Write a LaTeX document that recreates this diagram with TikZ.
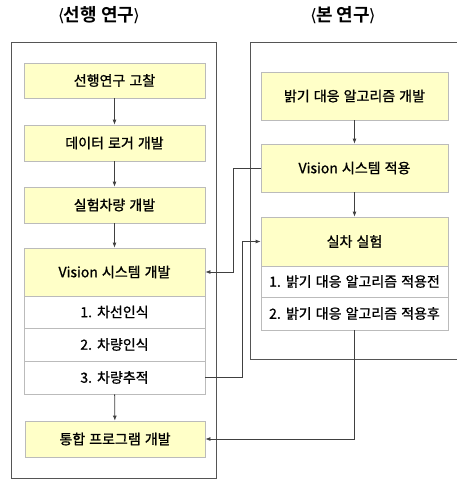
\documentclass[tikz,border=0pt]{standalone}
\usepackage{fontspec}
\newfontfamily\kr[FakeBold=1.1,WordSpace=1.3]{Noto Sans CJK KR}
\newfontfamily\krb{Noto Sans CJK KR Bold}
\newfontfamily\brfont{DejaVu Sans}
\usetikzlibrary{arrows.meta}
\definecolor{boxfill}{HTML}{FFFFC8}
\definecolor{boxline}{HTML}{BBBBBB}
\definecolor{outerline}{HTML}{555555}
\definecolor{conn}{HTML}{404040}
\tikzset{
  ybox/.style={draw=boxline, fill=boxfill, line width=0.8pt, inner sep=0pt, font=\kr\fontsize{14}{16}\selectfont},
  wbox/.style={draw=boxline, fill=white, line width=0.8pt, inner sep=0pt, font=\kr\fontsize{14}{16}\selectfont},
  outer/.style={draw=outerline, line width=0.9pt},
  arr/.style={draw=conn, line width=0.8pt, -{Latex[length=5pt,width=4pt]}},
  title/.style={font=\krb\fontsize{18}{20}\selectfont}
}
\newcommand{\lbr}{{\brfont\fontsize{17}{20}\selectfont⟨}}
\newcommand{\rbr}{{\brfont\fontsize{17}{20}\selectfont⟩}}
\begin{document}
\begin{tikzpicture}[x=1pt,y=-1pt]
\useasboundingbox (0,0) rectangle (457,480);
\fill[white] (0,0) rectangle (457,480);
% titles
\node[title] (t1) at (99,15) {\lbr\kern-1pt 선행 연구\kern-1pt\rbr};
\node[title] (t2) at (343,15) {\lbr\kern-1pt 본 연구\kern-1pt\rbr};
% outer boxes
\draw[outer] (11,42) rectangle (216,478);
\draw[outer] (457.5,42) -- (250,42) -- (250,359) -- (457.5,359);
% left boxes
\node[ybox, minimum width=181pt, minimum height=35pt] (a1) at (114.5,80.5) {선행연구 고찰};
\node[ybox, minimum width=181pt, minimum height=36pt] (a2) at (114.5,143) {데이터 로거 개발};
\node[ybox, minimum width=181pt, minimum height=36pt] (a3) at (114.5,205) {실험차량 개발};
\node[ybox, minimum width=181pt, minimum height=48pt] (a4) at (114.5,272) {Vision 시스템 개발};
\node[wbox, minimum width=181pt, minimum height=32pt] (a5) at (114.5,312) {1. 차선인식};
\node[wbox, minimum width=181pt, minimum height=33pt] (a6) at (114.5,344.5) {2. 차량인식};
\node[wbox, minimum width=181pt, minimum height=33pt] (a7) at (114.5,377.5) {3. 차량추적};
\node[ybox, minimum width=180pt, minimum height=36pt] (a8) at (115,439) {통합 프로그램 개발};
% right boxes
\node[ybox, minimum width=187pt, minimum height=48pt] (b1) at (354.5,96) {밝기 대응 알고리즘 개발};
\node[ybox, minimum width=187pt, minimum height=48pt] (b2) at (354.5,168) {Vision 시스템 적용};
\node[ybox, minimum width=187pt, minimum height=49pt] (b3) at (354.5,241.5) {실차 실험};
\node[wbox, minimum width=187pt, minimum height=31pt] (b4) at (354.5,281.5) {1. 밝기 대응 알고리즘 적용전};
\node[wbox, minimum width=187pt, minimum height=33pt] (b5) at (354.5,313.5) {2. 밝기 대응 알고리즘 적용후};
% coordinates for bends
\coordinate (c1) at (233,168);
\coordinate (c2) at (233,272);
\coordinate (d1) at (242,377.5);
\coordinate (d2) at (242,241.5);
\coordinate (e1) at (354.5,439);
% arrows
\draw[arr] (a1) -- (a2);
\draw[arr] (a2) -- (a3);
\draw[arr] (a3) -- (a4);
\draw[arr] (a7) -- (a8);
\draw[arr] (b1) -- (b2);
\draw[arr] (b2) -- (b3);
\draw[arr] (b2.west) -- (c1) -- (c2) -- (a4.east);
\draw[arr] (a7.east) -- (d1) -- (d2) -- (b3.west);
\draw[arr] (b5.south) -- (e1) -- (a8.east);
\end{tikzpicture}
\end{document}
